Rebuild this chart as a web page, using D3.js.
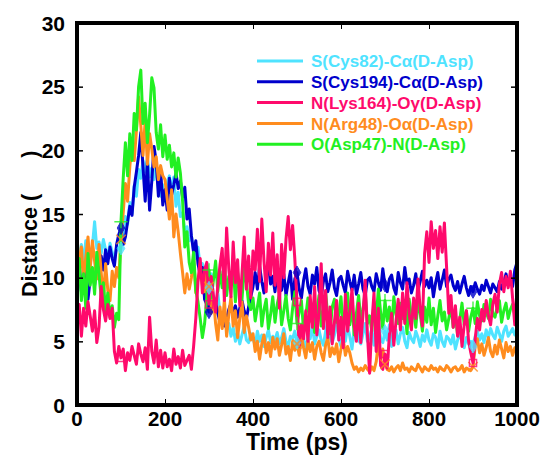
<!DOCTYPE html>
<html>
<head>
<meta charset="utf-8">
<script src="https://cdn.jsdelivr.net/npm/d3@7"></script>
<style>
  body { margin: 0; background: #fff; }
  svg { display: block; font-family: "Liberation Sans", Arial, sans-serif; font-weight: bold; }
</style>
</head>
<body>
<svg id="chart" width="546" height="456"></svg>
<script>
// sampling grid (ps), one frame every 5 ps
const times = d3.range(0, 1001, 5);

const xTicks = [0, 200, 400, 600, 800, 1000];
const yTicks = [0, 5, 10, 15, 20, 25, 30];

const seriesNames = [
  'S(Cys82)-C\u03b1(D-Asp)',
  'S(Cys194)-C\u03b1(D-Asp)',
  'N(Lys164)-O\u03b3(D-Asp)',
  'N(Arg48)-O\u03b1(D-Asp)',
  'O(Asp47)-N(D-Asp)'
];
const seriesColors = ['#4fe3ff', '#0000cc', '#ff0a6c', '#ff8c1e', '#22f022'];

const cys82 = [
  10.5, 11.8, 12.6, 11.2, 12.9, 12.1, 11.0, 12.5, 14.4, 12.3,
  12.8, 11.9, 13.0, 12.2, 11.6, 12.7, 12.0, 11.3, 12.4, 12.3,
  12.3, 13.5, 14.8, 14.2, 15.9, 15.0, 17.2, 16.4, 18.5, 17.8,
  19.2, 18.3, 19.4, 17.9, 18.6, 17.7, 18.9, 17.0, 16.4, 17.3,
  16.2, 17.5, 18.0, 16.8, 17.9, 15.6, 16.7, 14.8, 15.1, 13.6,
  14.0, 12.9, 13.3, 12.1, 11.5, 12.4, 10.8, 11.1, 9.9, 10.6,
  9.2, 10.3, 8.5, 7.9, 8.8, 7.2, 6.6, 7.4, 5.9, 6.4,
  5.4, 6.1, 5.0, 5.7, 4.8, 5.5, 6.2, 5.1, 4.9, 5.6,
  5.2, 4.7, 5.8, 5.0, 5.5, 4.6, 5.3, 5.9, 4.9, 5.4,
  5.1, 5.7, 4.8, 5.3, 6.0, 5.0, 4.6, 5.4, 5.2, 5.8,
  4.9, 5.5, 6.1, 5.0, 4.5, 5.6, 5.2, 6.3, 4.8, 5.4,
  5.9, 5.1, 4.7, 5.8, 6.6, 5.3, 4.9, 5.5, 6.8, 5.2,
  4.6, 5.7, 5.0, 6.2, 5.4, 4.4, 5.9, 7.0, 5.1, 4.8,
  5.6, 6.4, 5.0, 5.3, 6.0, 4.7, 5.5, 6.6, 5.2, 4.9,
  5.8, 5.1, 6.3, 4.6, 5.4, 5.9, 4.8, 5.6, 6.1, 5.0,
  4.5, 5.7, 5.2, 4.9, 5.8, 5.3, 4.6, 5.5, 5.0, 5.9,
  5.1, 4.7, 5.6, 5.3, 4.5, 5.8, 5.0, 4.6, 5.4, 5.2,
  4.8, 5.5, 4.4, 5.1, 5.7, 4.9, 4.5, 5.3, 4.8, 5.0,
  4.6, 5.4, 5.8, 5.1, 5.6, 4.9, 5.9, 5.3, 6.0, 5.5,
  5.2, 6.1, 5.6, 5.0, 5.8, 6.2, 5.4, 5.7, 6.0, 5.5,
  5.8
];

const cys194 = [
  9.2, 10.4, 8.9, 10.9, 9.6, 8.3, 9.9, 10.7, 9.4, 11.0,
  10.3, 11.7, 10.6, 12.2, 11.1, 12.4, 11.5, 10.9, 12.6, 13.4,
  13.9, 12.6, 13.2, 14.4, 15.6, 14.9, 17.1, 18.3, 19.6, 21.4,
  18.7, 16.0, 19.2, 15.3, 17.6, 20.3, 19.1, 16.4, 18.5, 15.7,
  16.9, 15.3, 17.8, 16.5, 17.3, 18.2, 17.0, 17.6, 16.3, 17.1,
  14.6, 15.4, 13.3, 12.0, 12.9, 11.1, 10.2, 10.8, 8.3, 7.9,
  7.3, 8.4, 7.6, 8.1, 7.2, 6.5, 7.0, 6.2, 6.8, 7.5,
  8.0, 7.1, 7.8, 6.9, 7.6, 8.2, 7.4, 6.8, 7.7, 8.5,
  9.3, 10.4, 9.1, 10.9, 9.7, 8.8, 10.2, 11.0, 9.5, 10.1,
  8.9, 10.6, 9.8, 9.0, 10.3, 8.6, 9.6, 10.5, 8.3, 9.9,
  10.4, 9.1, 8.4, 9.8, 10.7, 9.3, 8.7, 10.2, 9.5, 10.8,
  9.0, 8.5, 9.7, 10.3, 8.9, 9.6, 10.6, 9.2, 8.6, 9.9,
  10.1, 9.4, 8.8, 10.5, 9.7, 9.0, 10.2, 8.7, 9.5, 10.4,
  9.1, 8.6, 9.8, 10.0, 9.3, 8.9, 10.3, 9.6, 9.0, 10.7,
  9.4, 8.9, 9.9, 10.2, 9.2, 8.7, 10.4, 9.6, 9.1, 10.8,
  9.5, 9.9, 8.8, 9.4, 10.3, 9.0, 9.7, 10.5, 9.3, 9.8,
  9.2, 10.0, 8.5, 9.6, 10.4, 9.1, 9.8, 10.6, 9.3, 9.9,
  10.2, 9.4, 9.0, 9.7, 8.8, 9.5, 10.1, 9.2, 8.6, 9.3,
  8.9, 9.6, 9.1, 8.7, 9.4, 9.0, 9.8, 9.3, 8.8, 9.5,
  9.2, 8.9, 9.7, 9.1, 9.6, 10.3, 9.4, 10.0, 9.3, 10.6,
  11.2
];

const lys164 = [
  6.5, 7.9, 5.4, 7.6, 6.2, 8.1, 7.0, 5.8, 7.4, 4.9,
  6.1, 9.3, 7.5, 6.6, 7.9, 6.8, 7.6, 4.2, 3.3, 4.6,
  3.7, 4.4, 2.7, 4.1, 3.5, 4.6, 3.9, 3.2, 4.8, 4.0,
  3.4, 4.5, 2.8, 6.9, 4.2, 3.3, 5.1, 3.0, 4.3, 2.9,
  4.1, 3.0, 3.6, 2.7, 4.4, 3.2, 3.8, 2.9, 4.3, 3.1,
  3.5, 3.9, 2.8, 4.6, 6.8, 9.7, 11.5, 8.8, 10.6, 11.2,
  7.9, 10.1, 8.6, 7.3, 9.4, 11.0, 12.3, 8.2, 13.9, 10.7,
  8.5, 12.8, 9.6, 11.4, 7.8, 10.3, 13.2, 9.1, 11.7, 8.4,
  12.1, 10.6, 13.8, 9.7, 14.6, 11.3, 8.9, 12.7, 10.2, 13.5,
  9.4, 11.8, 7.6, 12.6, 10.0, 13.0, 14.8, 12.2, 14.1, 11.5,
  8.1, 4.6, 6.3, 5.2, 7.4, 5.0, 8.6, 6.1, 9.3, 5.5,
  7.2, 11.1, 6.0, 9.0, 5.3, 7.7, 4.8, 6.5, 8.2, 5.1,
  6.9, 4.5, 8.7, 5.8, 7.3, 9.1, 6.2, 5.0, 8.0, 4.9,
  7.1, 9.8, 5.6, 2.5, 6.4, 8.8, 4.2, 7.6, 3.1, 2.8,
  4.0, 2.9, 5.5, 7.2, 4.7, 6.6, 8.3, 5.9, 8.8, 6.4,
  9.6, 7.1, 5.9, 8.4, 6.8, 9.9, 7.5, 6.2, 11.9, 13.6,
  11.2, 14.4, 12.3, 13.7, 11.5, 14.0, 12.0, 14.3, 10.8, 7.2,
  8.6, 6.1, 7.8, 5.4, 6.9, 4.6, 6.3, 7.4, 5.0, 4.1,
  3.3, 5.2, 6.8, 5.9, 7.5, 6.6, 8.2, 7.0, 6.3, 7.9,
  8.7, 7.3, 9.5, 10.4, 8.9, 10.1, 9.2, 10.5, 8.4, 6.3,
  9.0
];

const arg48 = [
  13.5, 10.2, 12.4, 9.8, 11.6, 13.2, 10.7, 12.9, 11.3, 9.9,
  12.6, 10.4, 8.3, 11.1, 9.0, 8.2, 10.5, 9.3, 10.8, 10.0,
  13.0, 15.1, 17.4, 16.0, 18.7, 20.6, 19.2, 21.5, 24.2, 22.0,
  19.6, 22.4, 18.9, 21.3, 20.1, 18.7, 19.5, 17.7, 18.8, 18.0,
  17.7, 16.2, 14.6, 16.9, 13.2, 15.0, 13.6, 11.9, 10.4, 8.8,
  10.3, 9.1, 10.0, 11.6, 8.8, 9.9, 10.4, 9.4, 8.9, 11.0,
  9.3, 7.2, 8.5, 6.4, 5.1, 7.7, 6.0, 8.3, 5.4, 7.1,
  8.5, 6.2, 7.4, 5.3, 6.8, 8.1, 5.7, 7.0, 6.1, 5.1,
  5.6, 4.2, 5.0, 3.6, 4.8, 5.5, 4.1, 4.9, 3.8, 5.3,
  4.4, 5.2, 3.9, 4.7, 5.6, 4.0, 4.6, 3.5, 5.0, 4.3,
  4.8, 3.9, 5.4, 4.5, 3.7, 5.1, 4.2, 4.9, 3.6, 4.6,
  5.0, 4.1, 3.5, 4.7, 5.3, 3.8, 4.5, 4.0, 4.8, 3.4,
  4.4, 5.2, 3.9, 4.6, 4.1, 3.3, 2.8, 3.0, 2.6, 2.9,
  2.7, 3.1, 2.8, 2.6, 3.0, 2.7, 3.4, 4.9, 3.6, 4.4,
  3.2, 2.8, 2.7, 3.0, 2.6, 2.9, 3.1, 2.7, 3.3, 2.8,
  2.9, 2.6, 3.0, 2.8, 2.7, 3.2, 2.9, 2.6, 3.0, 2.8,
  2.7, 3.1, 2.8, 2.9, 2.6, 3.0, 2.8, 2.7, 3.1, 2.9,
  2.6, 2.9, 3.0, 2.7, 2.8, 3.1, 2.6, 2.9, 2.8, 2.7,
  3.0, 4.6, 5.2, 4.1, 4.8, 3.9, 4.5, 5.3, 4.2, 3.8,
  4.7, 4.0, 5.1, 4.4, 3.7, 4.9, 4.2, 4.6, 3.9, 4.5,
  4.1
];

const asp47 = [
  9.0, 11.5, 8.2, 10.3, 7.6, 11.9, 9.4, 10.8, 8.7, 12.0,
  10.2, 8.5, 9.6, 7.4, 8.8, 6.9, 7.8, 6.1, 7.2, 6.7,
  14.4, 17.8, 20.6, 18.0, 21.3, 19.2, 22.9, 21.6, 25.0, 26.3,
  22.1, 23.7, 20.6, 22.8, 25.7, 24.9, 21.4, 20.1, 22.0, 19.5,
  21.2, 19.3, 20.4, 18.7, 19.8, 17.9, 19.4, 18.2, 16.0, 12.4,
  13.6, 11.2, 10.4, 12.0, 9.0, 8.1, 6.8, 5.3, 6.4, 8.5,
  10.6, 8.4, 9.8, 11.3, 8.9, 10.5, 9.2, 11.0, 8.6, 10.1,
  9.4, 11.2, 8.1, 10.4, 9.0, 8.3, 10.8, 9.6, 8.0, 7.5,
  8.4, 6.6, 7.7, 8.8, 6.2, 7.5, 8.3, 6.0, 7.1, 8.5,
  6.5, 7.9, 8.7, 6.3, 7.4, 8.6, 6.8, 5.9, 7.6, 8.9,
  6.4, 7.3, 8.2, 5.8, 7.0, 8.4, 6.6, 7.8, 5.7, 7.2,
  8.6, 6.2, 7.5, 8.9, 6.9, 5.6, 7.7, 8.3, 6.5, 7.1,
  8.5, 6.0, 7.4, 8.8, 6.3, 7.9, 5.5, 7.2, 8.6, 6.7,
  7.5, 8.9, 6.4, 7.0, 5.8, 8.1, 6.9, 9.1, 7.3, 6.0,
  8.2, 6.6, 7.7, 5.9, 8.5, 7.1, 6.4, 8.0, 6.8, 7.6,
  5.6, 8.3, 6.9, 7.4, 6.1, 8.1, 7.2, 5.8, 7.7, 6.5,
  8.4, 6.3, 7.6, 5.7, 7.0, 8.2, 6.6, 7.3, 5.9, 6.8,
  7.8, 6.1, 7.1, 5.5, 6.7, 8.0, 6.3, 7.4, 5.8, 6.9,
  7.6, 6.4, 8.1, 7.0, 6.6, 7.9, 7.3, 6.8, 8.3, 7.2,
  6.9, 7.7, 8.2, 6.5, 7.4, 8.0, 6.8, 7.5, 7.9, 7.1,
  7.6
];

// point symbols drawn every 200 ps, starting at 100 ps
const markerTimes = [100, 300, 500, 700, 900];

const seriesValues = [cys82, cys194, lys164, arg48, asp47];
const symbolTypes = [d3.symbolDiamond, d3.symbolDiamond, d3.symbolSquare, d3.symbolTimes, d3.symbolPlus];
const drawOrder = [0, 1, 3, 4, 2];

const margin = { top: 23, right: 29, bottom: 51, left: 77 };
const width = 546 - margin.left - margin.right;
const height = 456 - margin.top - margin.bottom;

const svg = d3.select('#chart');
const g = svg.append('g').attr('transform', `translate(${margin.left},${margin.top})`);

const x = d3.scaleLinear().domain([0, 1000]).range([0, width]);
const y = d3.scaleLinear().domain([0, 30]).range([height, 0]);

const line = d3.line()
  .x((d) => x(d[0]))
  .y((d) => y(d[1]));

const plot = g.append('g');

drawOrder.forEach((k) => {
  const pts = times.map((t, i) => [t, seriesValues[k][i]]);
  plot.append('path')
    .datum(pts)
    .attr('fill', 'none')
    .attr('stroke', seriesColors[k])
    .attr('stroke-width', 3)
    .attr('stroke-linejoin', 'round')
    .attr('d', line);
});

drawOrder.forEach((k) => {
  const stroked = symbolTypes[k] === d3.symbolTimes || symbolTypes[k] === d3.symbolPlus || k === 2;
  plot.append('g')
    .selectAll('path')
    .data(markerTimes)
    .join('path')
    .attr('transform', (t) => `translate(${x(t)},${y(seriesValues[k][times.indexOf(t)])})`)
    .attr('d', d3.symbol().type(symbolTypes[k]).size(k === 3 || k === 4 ? 60 : 50))
    .attr('fill', stroked ? 'none' : seriesColors[k])
    .attr('stroke', seriesColors[k])
    .attr('stroke-width', stroked ? 1.5 : 1)
    .attr('opacity', 0.8);
});

// inward ticks on all four sides
const tickLen = 6;
g.append('g')
  .call(d3.axisBottom(x).tickValues(xTicks).tickSize(-tickLen).tickFormat(''))
  .attr('transform', `translate(0,${height})`)
  .call((a) => a.select('.domain').remove())
  .call((a) => a.selectAll('line').attr('stroke', '#000').attr('stroke-width', 1));
g.append('g')
  .call(d3.axisTop(x).tickValues(xTicks).tickSize(-tickLen).tickFormat(''))
  .call((a) => a.select('.domain').remove())
  .call((a) => a.selectAll('line').attr('stroke', '#000').attr('stroke-width', 1));
g.append('g')
  .call(d3.axisLeft(y).tickValues(yTicks).tickSize(-tickLen).tickFormat(''))
  .call((a) => a.select('.domain').remove())
  .call((a) => a.selectAll('line').attr('stroke', '#000').attr('stroke-width', 1.5));
g.append('g')
  .attr('transform', `translate(${width},0)`)
  .call(d3.axisRight(y).tickValues(yTicks).tickSize(-tickLen).tickFormat(''))
  .call((a) => a.select('.domain').remove())
  .call((a) => a.selectAll('line').attr('stroke', '#000').attr('stroke-width', 1.5));

// frame
g.append('rect')
  .attr('x', 0).attr('y', 0)
  .attr('width', width).attr('height', height)
  .attr('fill', 'none')
  .attr('stroke', '#000')
  .attr('stroke-width', 4);

// tick labels
g.append('g')
  .selectAll('text')
  .data(xTicks)
  .join('text')
  .attr('x', (d) => x(d))
  .attr('y', height + 21)
  .attr('text-anchor', 'middle')
  .attr('font-size', 20.5)
  .text((d) => d);

g.append('g')
  .selectAll('text')
  .data(yTicks)
  .join('text')
  .attr('x', -12)
  .attr('y', (d) => y(d))
  .attr('dy', '0.36em')
  .attr('text-anchor', 'end')
  .attr('font-size', 21)
  .text((d) => d);

// axis titles
svg.append('text')
  .attr('x', margin.left + width / 2)
  .attr('y', 450)
  .attr('text-anchor', 'middle')
  .attr('font-size', 23)
  .text('Time (ps)');

const yTitle = svg.append('text')
  .attr('transform', 'translate(37,297) rotate(-90)')
  .attr('text-anchor', 'start')
  .attr('font-size', 21.6)
  .text('Distance (');
yTitle.append('tspan')
  .attr('dx', 36)
  .text(')');

// legend
const legend = svg.append('g').attr('transform', 'translate(257,61)');
const rows = legend.selectAll('g')
  .data(seriesNames)
  .join('g')
  .attr('transform', (d, i) => `translate(0,${i * 20.8})`);
rows.append('line')
  .attr('x1', 0).attr('x2', 46)
  .attr('stroke', (d, i) => seriesColors[i])
  .attr('stroke-width', 3);
rows.append('text')
  .attr('x', 54)
  .attr('dy', '0.36em')
  .attr('font-size', 17)
  .attr('fill', (d, i) => seriesColors[i])
  .text((d) => d);
</script>
</body>
</html>
